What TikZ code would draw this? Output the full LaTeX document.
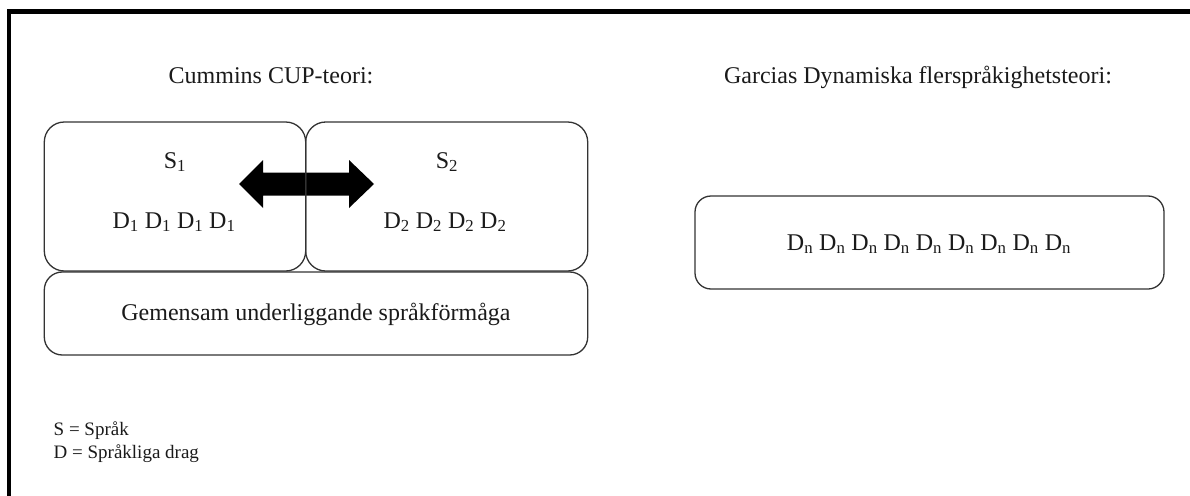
\documentclass[tikz,border=0pt]{standalone}
\usepackage{fontspec}
\setmainfont{Liberation Serif}
\definecolor{boxgray}{HTML}{333333}
\definecolor{txt}{HTML}{1A1A1A}
\tikzset{
  roundbox/.style={draw=boxgray, line width=1.3pt, rectangle, rounded corners=20pt, inner sep=0pt},
  maintext/.style={inner sep=0pt, text=txt, font=\fontsize{24}{28}\selectfont},
  legendtext/.style={inner sep=0pt, text=txt, font=\fontsize{19}{22}\selectfont, anchor=base west},
}
\begin{document}
\begin{tikzpicture}[x=1pt,y=-1pt]
\useasboundingbox (0,0) rectangle (1190,495);
% frame
\draw[line width=4.5pt, line join=miter] (9,500) -- (9,11.5) -- (1195,11.5);

% titles
\node[maintext, anchor=base] (t1) at (271,83) {Cummins CUP-teori:};
\node[maintext, anchor=base] (t2) at (918,83) {Garcias Dynamiska flerspråkighetsteori:};

% double arrow
\fill[black] (239,184) -- (263,160) -- (263,172.7) -- (349,172.7) -- (349,160) -- (374,184)
  -- (349,208) -- (349,195.7) -- (263,195.7) -- (263,208) -- cycle;

% boxes
\node[roundbox, minimum width=261.4pt, minimum height=149pt] (s1box) at (175,196.5) {};
\node[roundbox, minimum width=282pt, minimum height=149pt] (s2box) at (446.7,196.5) {};
\node[roundbox, rounded corners=18pt, minimum width=543.4pt, minimum height=83pt] (gbox) at (316,313.5) {};
\node[roundbox, rounded corners=16pt, minimum width=469pt, minimum height=93pt] (dnbox) at (929.5,242.5) {};

% texts
\node[maintext, anchor=base] (s1) at (175,168) {S\textsubscript{1}};
\node[maintext, anchor=base] (d1) at (174,228) {D\textsubscript{1} D\textsubscript{1} D\textsubscript{1} D\textsubscript{1}};
\node[maintext, anchor=base] (s2) at (447,168) {S\textsubscript{2}};
\node[maintext, anchor=base] (d2) at (445,228) {D\textsubscript{2} D\textsubscript{2} D\textsubscript{2} D\textsubscript{2}};
\node[maintext, anchor=base] (g) at (316,320) {Gemensam underliggande språkförmåga};
\node[maintext, anchor=base] (dn) at (929,250) {D\textsubscript{n} D\textsubscript{n} D\textsubscript{n} D\textsubscript{n} D\textsubscript{n} D\textsubscript{n} D\textsubscript{n} D\textsubscript{n} D\textsubscript{n}};

% legend
\node[legendtext] (l1) at (53.5,435) {S = Språk};
\node[legendtext] (l2) at (53.5,458) {D = Språkliga drag};
\end{tikzpicture}
\end{document}
